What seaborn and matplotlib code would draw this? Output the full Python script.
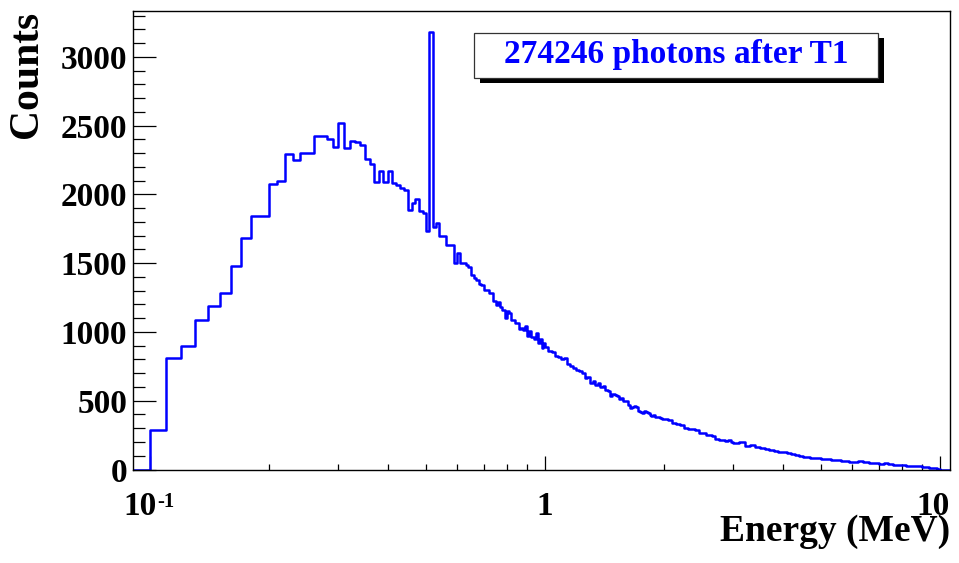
import numpy as np
import pandas as pd
import matplotlib
matplotlib.use("Agg")
import matplotlib.pyplot as plt
import matplotlib.transforms as mtransforms
from matplotlib.patches import Rectangle
from matplotlib.ticker import FixedLocator, FixedFormatter, MultipleLocator, NullFormatter
import seaborn as sns

# ---------------- data ----------------
title_text = "274246 photons after T1"
x_label = "Energy (MeV)"
y_label = "Counts"

x_major_ticks = [0.1, 1, 10]
x_major_labels = ["", "1", ""]        # 10^-1 and 10 are written as separate texts below
x_first_base, x_first_exp = "10", "-1"
x_last_label = "10"
x_minor_ticks = [0.2, 0.3, 0.4, 0.5, 0.6, 0.7, 0.8, 0.9, 2, 3, 4, 5, 6, 7, 8, 9]
y_major_ticks = [0, 500, 1000, 1500, 2000, 2500, 3000]
y_major_labels = ["0", "500", "1000", "1500", "2000", "2500", "3000"]

# counts in 0.01 MeV bins, 0.09 ... 1.00 MeV
counts_low = [
    0, 286, 812, 899, 1086, 1190, 1287, 1481, 1680, 1842,
    1842, 2073, 2097, 2293, 2250, 2303, 2299, 2426, 2426, 2400,
    2346, 2523, 2339, 2388, 2378, 2359, 2255, 2218, 2092, 2169,
    2087, 2172, 2080, 2068, 2044, 2032, 1886, 1935, 1966, 1881,
    1862, 1733, 3183, 1760, 1790, 1700, 1697, 1631, 1631, 1631,
    1498, 1571, 1498, 1498, 1490, 1474, 1413, 1390, 1377, 1348,
    1340, 1304, 1304, 1280, 1280, 1226, 1195, 1215, 1180, 1160,
    1100, 1150, 1140, 1086, 1086, 1062, 1062, 1025, 1030, 1015,
    1040, 970, 1010, 965, 965, 950, 990, 920, 950, 880,
    920]
# counts in 0.02 MeV bins, 1.00 ... 2.00 MeV
counts_1_2 = [
    890, 860, 852, 825, 815, 800, 808, 770, 755, 740,
    725, 715, 700, 668, 672, 628, 645, 618, 628, 600,
    605, 580, 572, 535, 552, 545, 538, 512, 522, 500,
    496, 472, 444, 455, 462, 452, 428, 418, 412, 424,
    418, 410, 398, 392, 396, 384, 380, 384, 374, 370]
# counts in 0.05 MeV bins, 2.00 ... 3.00 MeV
counts_2_3 = [
    366, 358, 340, 334, 326, 300, 294, 296, 284, 268,
    262, 252, 250, 246, 222, 212, 216, 210, 213, 198]
# counts in 0.1 MeV bins, 3.0 ... 6.0 MeV
counts_3_6 = [
    190, 200, 168, 176, 162, 154, 150, 145, 132, 128,
    126, 118, 112, 104, 100, 94, 92, 85, 82, 80,
    79, 78, 74, 72, 70, 68, 64, 62, 60, 57]
# counts in 0.2 MeV bins, 6.0 ... 10.0 MeV
counts_6_10 = [
    58, 62, 55, 48, 47, 38, 44, 40, 36, 33,
    30, 27, 27, 24, 24, 19, 18, 12, 11, 7]
# empty overflow region 10.0 ... 10.6 MeV
counts_tail = [0]

bin_layout = [
    (0.09, 0.01, counts_low),
    (1.00, 0.02, counts_1_2),
    (2.00, 0.05, counts_2_3),
    (3.00, 0.10, counts_3_6),
    (6.00, 0.20, counts_6_10),
    (10.00, 0.60, counts_tail),
]

lower = np.concatenate([lo + w * np.arange(len(c)) for lo, w, c in bin_layout])
widths = np.concatenate([np.full(len(c), w) for lo, w, c in bin_layout])
counts = np.concatenate([np.asarray(c, dtype=float) for lo, w, c in bin_layout])
edges = np.append(lower, lower[-1] + widths[-1])
df = pd.DataFrame({"energy": lower + widths / 2, "counts": counts})

# ---------------- style ----------------
sns.set_style("white")
plt.rcParams["font.family"] = ["Liberation Serif", "DejaVu Serif"]
plt.rcParams["font.weight"] = "bold"
for key in ["text.color", "axes.labelcolor", "xtick.color", "ytick.color", "axes.edgecolor"]:
    plt.rcParams[key] = "black"

W, H, DPI = 959, 563, 100
fig = plt.figure(figsize=(W / DPI, H / DPI), dpi=DPI)
ax_left, ax_right, ax_top, ax_bottom = 133, 949.5, 11, 469.5
ax = fig.add_axes([ax_left / W, 1 - ax_bottom / H,
                   (ax_right - ax_left) / W, (ax_bottom - ax_top) / H])

blue = "#0000ff"
sns.histplot(data=df, x="energy", weights="counts", bins=[float(e) for e in edges],
             element="step", fill=False, color=blue, linewidth=1.8, ax=ax)

ax.set_xscale("log")
ax.set_xlim(0.09057, 10.569)
ax.set_ylim(0, 3334)
ax.set_xlabel("")
ax.set_ylabel("")

for s in ax.spines.values():
    s.set_visible(True)
    s.set_color("black")
    s.set_linewidth(1.0)

ax.xaxis.set_major_locator(FixedLocator(x_major_ticks))
ax.xaxis.set_major_formatter(FixedFormatter(x_major_labels))
ax.xaxis.set_minor_locator(FixedLocator(x_minor_ticks))
ax.xaxis.set_minor_formatter(NullFormatter())
ax.yaxis.set_major_locator(FixedLocator(y_major_ticks))
ax.yaxis.set_major_formatter(FixedFormatter(y_major_labels))
ax.yaxis.set_minor_locator(MultipleLocator(100))

ax.tick_params(axis="x", which="major", direction="in", length=10, width=0.9,
               color="black", labelcolor="black", top=False, bottom=True, pad=15.5, labelsize=24)
ax.tick_params(axis="x", which="minor", direction="in", length=4.3, width=0.9,
               color="black", top=False, bottom=True)
ax.tick_params(axis="y", which="major", direction="in", length=16.6, width=0.9,
               color="black", labelcolor="black", left=True, right=False, pad=4.3, labelsize=24)
ax.tick_params(axis="y", which="minor", direction="in", length=8.9, width=0.9,
               color="black", left=True, right=False)
for lab in ax.get_xticklabels() + ax.get_yticklabels():
    lab.set_fontfamily("Liberation Serif")
    lab.set_fontweight("bold")

# x labels written as separate texts: 10^-1 (base + raised exponent) and 10 (kept inside the frame)
xtrans = ax.get_xaxis_transform()
lab_kw = dict(fontweight="bold", family="Liberation Serif", color="black", clip_on=False)
base_tr = mtransforms.offset_copy(xtrans, fig=fig, x=7, y=-21.5, units="dots")
ax.text(x_major_ticks[0], 0, x_first_base, transform=base_tr, ha="right", va="top",
        fontsize=24, **lab_kw)
exp_tr = mtransforms.offset_copy(xtrans, fig=fig, x=7, y=-22.5, units="dots")
ax.text(x_major_ticks[0], 0, x_first_exp, transform=exp_tr, ha="left", va="top",
        fontsize=15, **lab_kw)
last_tr = mtransforms.offset_copy(xtrans, fig=fig, x=10, y=-21.5, units="dots")
ax.text(x_major_ticks[2], 0, x_last_label, transform=last_tr, ha="right", va="top",
        fontsize=24, **lab_kw)

# axis titles (ROOT style: at the ends of the axes)
fig.text(27 / W, 1 - 11 / H, y_label, rotation=90, ha="center", va="top",
         fontsize=30, fontweight="bold", family="Liberation Serif", color="black")
fig.text(950 / W, 1 - 541 / H, x_label, ha="right", va="baseline",
         fontsize=27, fontweight="bold", family="Liberation Serif", color="black")

# title box with shadow
bx0, bx1, by0, by1 = 474, 878, 33, 78
sh = 6
fig.patches.append(Rectangle(((bx0 + sh) / W, 1 - (by1 + 5) / H), (bx1 - bx0) / W, (by1 - by0) / H,
                             transform=fig.transFigure, facecolor="black", edgecolor="none", zorder=5))
fig.patches.append(Rectangle((bx0 / W, 1 - by1 / H), (bx1 - bx0) / W, (by1 - by0) / H,
                             transform=fig.transFigure, facecolor="white", edgecolor="#333333",
                             linewidth=0.9, zorder=6))
fig.text((bx0 + bx1) / 2 / W, 1 - 63.5 / H, title_text, ha="center", va="baseline",
         color=blue, fontsize=24, fontweight="bold", family="Liberation Serif", zorder=7)

fig.savefig("out.png", dpi=DPI)
